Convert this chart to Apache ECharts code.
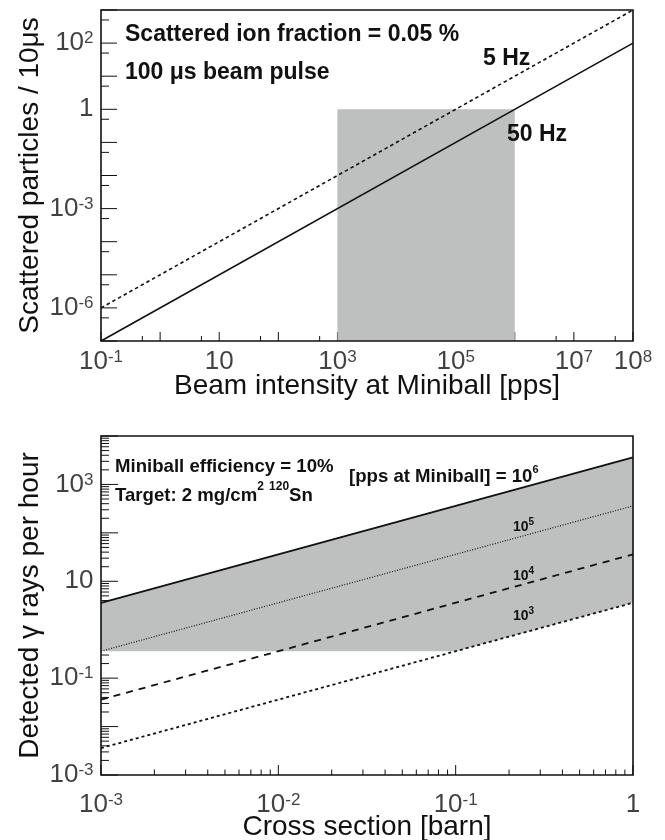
<!DOCTYPE html>
<html><head><meta charset="utf-8">
<script src="https://cdn.jsdelivr.net/npm/echarts@6/dist/echarts.min.js"></script>
<style>html,body{margin:0;padding:0;background:#fff}#c{width:665px;height:840px}</style>
</head><body><div id="c"></div>
<script>
// ===== Top panel: scattered particles vs beam intensity =====
const topRangeX = [1e-1, 1e8];
const topRangeY = [1e-7, 1e3];
const topBeamX  = [1e-1, 1e8];      // beam intensity at Miniball [pps]
const top50Hz   = [1e-7, 1e2];      // scattered particles / 10us (50 Hz)
const top5Hz    = [1e-6, 1e3];      // scattered particles / 10us (5 Hz)
const topShadeX = [1e3, 1e6];
const topShadeTop = 1;
const topXLabelExps = [-1, 1, 3, 5, 7, 8];
const topYLabelExps = [2, 0, -3, -6];

// ===== Bottom panel: detected gamma rays vs cross section =====
const botRangeX = [1e-3, 1];
const botRangeY = [1e-3, 1e4];
const botSigmaX = [1e-3, 1];         // cross section [barn]
const bot1e6 = [3.6, 3600];
const bot1e5 = [0.36, 360];
const bot1e4 = [0.036, 36];
const bot1e3 = [0.0036, 3.6];
const botShadeLowX = [1e-3, 0.1, 1];
const botShadeLowY = [0.36, 0.36, 3.6];
const botXLabelExps = [-3, -2, -1, 0];
const botYLabelExps = [3, 1, -1, -3];

const FONT = '"Liberation Sans", Arial, Helvetica, sans-serif';
const INK = '#111';
const GRAY = '#bebfbf';

function decades(a, b) { const r = []; for (let e = a; e <= b; e++) r.push(Math.pow(10, e)); return r; }
function multiples(a, b, ms) { const r = []; for (let e = a; e <= b; e++) ms.forEach(m => r.push(m * Math.pow(10, e))); return r; }

function tickSeries(xi, yi, rx, ry, xMaj, xMin, yMaj, yMin, lx, ly) {
  const ticks = [];
  xMaj.forEach(v => ticks.push([v, ry[0], 'x', lx[0]]));
  xMin.forEach(v => { if (v > rx[0] && v < rx[1]) ticks.push([v, ry[0], 'x', lx[1]]); });
  yMaj.forEach(v => ticks.push([rx[0], v, 'y', ly[0]]));
  yMin.forEach(v => { if (v > ry[0] && v < ry[1]) ticks.push([rx[0], v, 'y', ly[1]]); });
  return {
    type: 'custom', xAxisIndex: xi, yAxisIndex: yi, silent: true, z: 2,
    data: ticks.map(t => [t[0], t[1]]),
    renderItem: (params, api) => {
      const t = ticks[params.dataIndex];
      const p = api.coord([t[0], t[1]]);
      const shape = t[2] === 'x'
        ? { x1: p[0], y1: p[1], x2: p[0], y2: p[1] - t[3] }
        : { x1: p[0], y1: p[1], x2: p[0] + t[3], y2: p[1] };
      return { type: 'line', shape: shape, style: { stroke: INK, lineWidth: 1 } };
    }
  };
}

function frameSeries(xi, yi, rx, ry) {
  return {
    type: 'custom', xAxisIndex: xi, yAxisIndex: yi, silent: true, z: 20,
    data: [[rx[0], ry[0]]],
    renderItem: (params, api) => {
      const a = api.coord([rx[0], ry[1]]);
      const b = api.coord([rx[1], ry[0]]);
      return { type: 'rect', shape: { x: a[0], y: a[1], width: b[0] - a[0], height: b[1] - a[1] },
        style: { fill: 'none', stroke: INK, lineWidth: 1.6 } };
    }
  };
}

function expText(e) {
  if (e === 0) return '{base|1}';
  if (e === 1) return '{base|10}';
  return '{base|10}{sup|' + e + '}';
}
const labelRich = {
  base: { fontSize: 26, fontFamily: FONT, color: INK, lineHeight: 26 },
  sup: { fontSize: 17, fontFamily: FONT, color: INK, lineHeight: 9, verticalAlign: 'top' }
};
function labelSeries(xi, yi, points, texts, position, distance) {
  return {
    type: 'scatter', xAxisIndex: xi, yAxisIndex: yi, silent: true, z: 3,
    symbolSize: 1, itemStyle: { color: 'rgba(0,0,0,0)' }, clip: false,
    data: points,
    label: { show: true, position: position, distance: distance,
      formatter: p => texts[p.dataIndex], rich: labelRich }
  };
}

function lineSeries(xi, yi, xs, ys, width, type, z) {
  return {
    type: 'line', xAxisIndex: xi, yAxisIndex: yi, silent: true, z: z || 5,
    symbol: 'none', showSymbol: false,
    data: xs.map((x, i) => [x, ys[i]]),
    lineStyle: { color: INK, width: width, type: type }
  };
}

const nameStyle = { fontSize: 28, fontFamily: FONT, color: INK };
function logAxis(gi, range, name, gap) {
  return {
    gridIndex: gi, type: 'log', logBase: 10, min: range[0], max: range[1],
    axisLine: { show: false }, axisTick: { show: false }, axisLabel: { show: false },
    splitLine: { show: false }, minorTick: { show: false },
    name: name, nameLocation: 'middle', nameGap: gap, nameTextStyle: nameStyle
  };
}

const chart = echarts.init(document.getElementById('c'), null, { renderer: 'canvas' });

const option = {
  animation: false,
  backgroundColor: '#fff',
  textStyle: { fontFamily: FONT },
  grid: [
    { left: 101, top: 10, width: 532, height: 331, containLabel: false, outerBoundsMode: 'none' },
    { left: 101, top: 436, width: 532, height: 339, containLabel: false, outerBoundsMode: 'none' }
  ],
  xAxis: [
    logAxis(0, topRangeX, 'Beam intensity at Miniball [pps]', 31),
    logAxis(1, botRangeX, 'Cross section [barn]', 38)
  ],
  yAxis: [
    logAxis(0, topRangeY, 'Scattered particles / 10μs', 57),
    logAxis(1, botRangeY, 'Detected γ rays per hour', 57)
  ],
  series: [
    // ---- top panel ----
    tickSeries(0, 0, topRangeX, topRangeY,
      decades(-1, 8), multiples(-1, 7, [5]),
      decades(-7, 3), multiples(-7, 2, [5]),
      [9, 5], [16, 8]),
    {
      type: 'custom', xAxisIndex: 0, yAxisIndex: 0, silent: true, z: 3,
      data: [[topShadeX[0], topShadeTop]],
      renderItem: (params, api) => {
        const a = api.coord([topShadeX[0], topShadeTop]);
        const b = api.coord([topShadeX[1], topRangeY[0]]);
        return { type: 'rect', shape: { x: a[0], y: a[1], width: b[0] - a[0], height: b[1] - a[1] },
          style: { fill: GRAY } };
      }
    },
    lineSeries(0, 0, topBeamX, top50Hz, 1.6, 'solid'),
    lineSeries(0, 0, topBeamX, top5Hz, 1.6, [3.5, 3]),
    labelSeries(0, 0, topXLabelExps.map(e => [Math.pow(10, e), topRangeY[0]]),
      topXLabelExps.map(expText), 'bottom', 7),
    labelSeries(0, 0, topYLabelExps.map(e => [topRangeX[0], Math.pow(10, e)]),
      topYLabelExps.map(expText), 'left', 7),
    frameSeries(0, 0, topRangeX, topRangeY),

    // ---- bottom panel ----
    tickSeries(1, 1, botRangeX, botRangeY,
      decades(-3, 0), multiples(-3, -1, [2, 3, 4, 5, 6, 7, 8, 9]),
      decades(-3, 4), multiples(-3, 3, [2, 3, 4, 5, 6, 7, 8, 9]),
      [10, 5.5], [17, 8]),
    {
      type: 'custom', xAxisIndex: 1, yAxisIndex: 1, silent: true, z: 3,
      data: [[botSigmaX[0], bot1e6[0]]],
      renderItem: (params, api) => {
        const pts = [];
        botSigmaX.forEach((x, i) => pts.push(api.coord([x, bot1e6[i]])));
        for (let i = botShadeLowX.length - 1; i >= 0; i--) pts.push(api.coord([botShadeLowX[i], botShadeLowY[i]]));
        return { type: 'polygon', shape: { points: pts }, style: { fill: GRAY } };
      }
    },
    lineSeries(1, 1, botSigmaX, bot1e6, 1.8, 'solid'),
    lineSeries(1, 1, botSigmaX, bot1e5, 1.2, [1, 1.6]),
    lineSeries(1, 1, botSigmaX, bot1e4, 1.8, [7, 6]),
    lineSeries(1, 1, botSigmaX, bot1e3, 1.8, [3, 3]),
    labelSeries(1, 1, botXLabelExps.map(e => [Math.pow(10, e), botRangeY[0]]),
      botXLabelExps.map(expText), 'bottom', 16),
    labelSeries(1, 1, botYLabelExps.map(e => [botRangeX[0], Math.pow(10, e)]),
      botYLabelExps.map(expText), 'left', 7),
    frameSeries(1, 1, botRangeX, botRangeY)
  ],
  graphic: [
    { type: 'text', x: 125, y: 35, z: 30, style: { text: 'Scattered ion fraction = 0.05 %',
      font: 'bold 23px ' + FONT, fill: INK, textVerticalAlign: 'middle', verticalAlign: 'middle' } },
    { type: 'text', x: 125, y: 73, z: 30, style: { text: '100 μs beam pulse',
      font: 'bold 23px ' + FONT, fill: INK, textVerticalAlign: 'middle', verticalAlign: 'middle' } },
    { type: 'text', x: 483, y: 59, z: 30, style: { text: '5 Hz',
      font: 'bold 23px ' + FONT, fill: INK, textVerticalAlign: 'middle', verticalAlign: 'middle' } },
    { type: 'text', x: 507, y: 135, z: 30, style: { text: '50 Hz',
      font: 'bold 23px ' + FONT, fill: INK, textVerticalAlign: 'middle', verticalAlign: 'middle' } },
    { type: 'text', x: 115, y: 467, z: 30, style: { text: 'Miniball efficiency = 10%',
      font: 'bold 18.6px ' + FONT, fill: INK, textVerticalAlign: 'middle', verticalAlign: 'middle' } },
    { type: 'text', x: 115, y: 496, z: 30, style: {
      text: '{t|Target: 2 mg/cm}{s|2}{t| }{s|120}{t|Sn}',
      textVerticalAlign: 'middle', verticalAlign: 'middle',
      rich: { t: { font: 'bold 18.6px ' + FONT, fill: INK, lineHeight: 30 },
              s: { font: 'bold 12px ' + FONT, fill: INK, lineHeight: 10, verticalAlign: 'top' } } } },
    { type: 'text', x: 349, y: 477, z: 30, style: {
      text: '{t|[pps at Miniball] = 10}{s|6}',
      textVerticalAlign: 'middle', verticalAlign: 'middle',
      rich: { t: { font: 'bold 18.6px ' + FONT, fill: INK, lineHeight: 26 },
              s: { font: 'bold 11px ' + FONT, fill: INK, lineHeight: 12, verticalAlign: 'top' } } } },
    { type: 'text', x: 513, y: 527, z: 30, style: { text: '{t|10}{s|5}',
      textVerticalAlign: 'middle', verticalAlign: 'middle',
      rich: { t: { font: 'bold 14px ' + FONT, fill: INK, lineHeight: 20 },
              s: { font: 'bold 10px ' + FONT, fill: INK, lineHeight: 8, verticalAlign: 'top' } } } },
    { type: 'text', x: 513, y: 576, z: 30, style: { text: '{t|10}{s|4}',
      textVerticalAlign: 'middle', verticalAlign: 'middle',
      rich: { t: { font: 'bold 14px ' + FONT, fill: INK, lineHeight: 20 },
              s: { font: 'bold 10px ' + FONT, fill: INK, lineHeight: 8, verticalAlign: 'top' } } } },
    { type: 'text', x: 513, y: 616, z: 30, style: { text: '{t|10}{s|3}',
      textVerticalAlign: 'middle', verticalAlign: 'middle',
      rich: { t: { font: 'bold 14px ' + FONT, fill: INK, lineHeight: 20 },
              s: { font: 'bold 10px ' + FONT, fill: INK, lineHeight: 8, verticalAlign: 'top' } } } }
  ]
};
chart.setOption(option);
</script>
</body></html>
